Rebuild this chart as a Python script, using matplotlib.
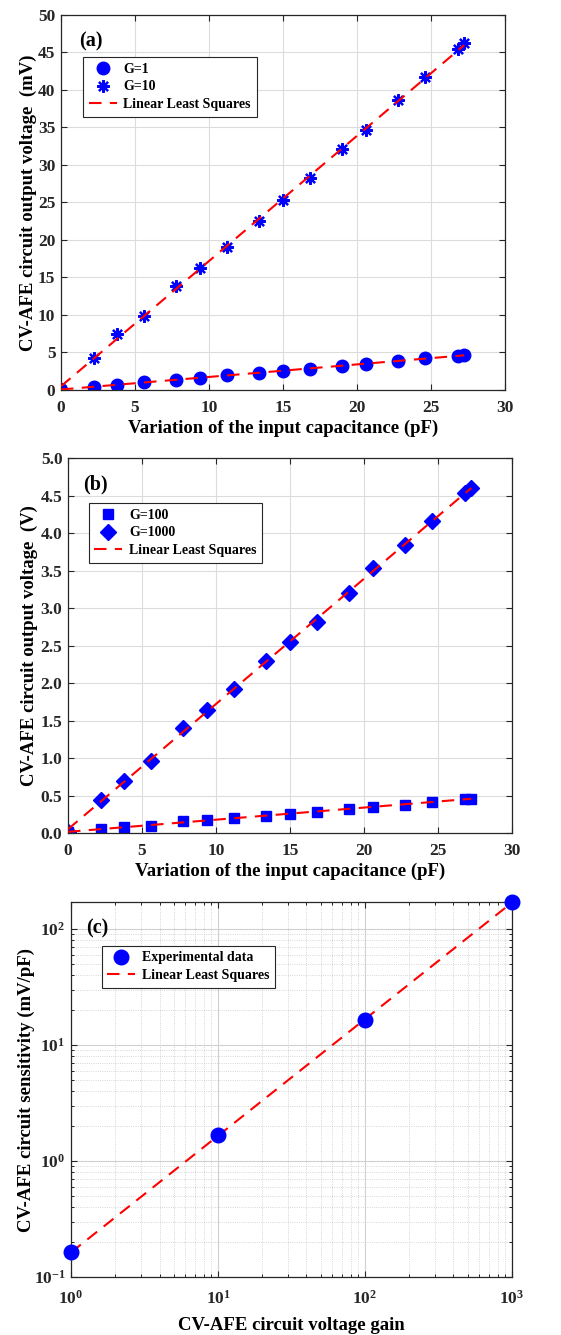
import numpy as np
import matplotlib
matplotlib.use("Agg")
import matplotlib.pyplot as plt
from matplotlib.ticker import FormatStrFormatter, LogLocator, NullFormatter

plt.rcParams['font.family'] = ['Liberation Serif', 'DejaVu Serif']
plt.rcParams['font.weight'] = 'bold'
plt.rcParams['mathtext.fontset'] = 'custom'
plt.rcParams['mathtext.rm'] = 'Liberation Serif:bold'
plt.rcParams['mathtext.bf'] = 'Liberation Serif:bold'
plt.rcParams['mathtext.default'] = 'bf'

# input capacitance variation (pF), shared by panels (a) and (b)
cap = [0, 2.26, 3.79, 5.59, 7.78, 9.38, 11.23, 13.38, 15.0, 16.8, 18.99, 20.62, 22.78, 24.61, 26.84, 27.25]

# panel (a), output in mV
g1 = [0.05, 0.45, 0.72, 1.0, 1.35, 1.65, 1.95, 2.28, 2.55, 2.82, 3.2, 3.5, 3.9, 4.2, 4.55, 4.65]
g10 = [0.1, 4.3, 7.4, 9.9, 13.8, 16.3, 19.1, 22.5, 25.3, 28.2, 32.1, 34.6, 38.7, 41.7, 45.4, 46.2]

# panel (b), output in V
g100 = [0.01, 0.05, 0.08, 0.10, 0.16, 0.18, 0.20, 0.23, 0.25, 0.28, 0.32, 0.35, 0.38, 0.42, 0.45, 0.46]
g1000 = [0.02, 0.44, 0.69, 0.96, 1.40, 1.64, 1.92, 2.29, 2.55, 2.82, 3.20, 3.53, 3.84, 4.16, 4.54, 4.60]

# panel (c), sensitivity (mV/pF) vs gain
gain = [1, 10, 100, 1000]
sens = [0.163, 1.67, 16.4, 171]

RED = '#ff0000'
BLUE = '#0000ff'
SPINE = '#262626'
TICKFS = 12.5
LABFS = 13.5
LEGFS = 10


def style(ax, xpad=7, ypad=4):
    ax.tick_params(direction='in', top=True, right=True, labelsize=TICKFS, width=0.8, length=4,
                   color=SPINE, labelcolor='#262626')
    ax.tick_params(axis='x', pad=xpad)
    ax.tick_params(axis='y', pad=ypad)
    ax.tick_params(which='minor', direction='in', top=True, right=True, width=0.6, length=2)
    for s in ax.spines.values():
        s.set_color(SPINE)
        s.set_linewidth(0.9)
    for lab in ax.get_xticklabels() + ax.get_yticklabels():
        lab.set_fontweight('bold')


def fit_line(ax, x, y):
    p = np.polyfit(x, y, 1)
    xs = np.array([0, max(x)])
    ax.plot(xs, np.polyval(p, xs), '--', color=RED, lw=1.5, dashes=(6, 4), zorder=3)


def legend(ax, anchor, handles=None, labels=None):
    kw = dict(loc='upper left', bbox_to_anchor=anchor, fontsize=LEGFS, fancybox=False,
              edgecolor=SPINE, framealpha=1, borderpad=0.4, handlelength=2.0,
              handletextpad=0.5, labelspacing=0.35, borderaxespad=0)
    if handles is None:
        leg = ax.legend(**kw)
    else:
        leg = ax.legend(handles, labels, **kw)
    leg.get_frame().set_linewidth(0.8)


fig = plt.figure(figsize=(5.61, 13.35), dpi=100)

# ---- (a)
ax1 = fig.add_axes([0.1087, 0.7079, 0.7914, 0.2809])
ax1.grid(True, color='#dcdcdc', lw=0.8)
ax1.set_axisbelow(True)
ax1.plot(cap, g1, 'o', color=BLUE, ms=9, label='G=1', zorder=2)
ax1.plot(cap, g10, marker=(8, 2, 0), ls='none', color=BLUE, mec=BLUE, mew=1.6, ms=9, label='G=10', zorder=2)
fit_line(ax1, cap, g1)
fit_line(ax1, cap, g10)
ax1.plot([], [], '--', color=RED, lw=1.5, dashes=(6, 4), label='Linear Least Squares')
ax1.set_xlim(0, 30)
ax1.set_ylim(0, 50)
ax1.set_xticks(range(0, 31, 5))
ax1.set_yticks(range(0, 51, 5))
ax1.set_xlabel('Variation of the input capacitance (pF)', fontsize=LABFS, fontweight='bold', labelpad=3)
ax1.set_ylabel('CV-AFE circuit output voltage  (mV)', fontsize=LABFS, fontweight='bold', labelpad=1)
ax1.text(0.04, 0.955, '(a)', transform=ax1.transAxes, fontsize=14.5, fontweight='bold', va='top')
h, l = ax1.get_legend_handles_labels()
legend(ax1, (0.05, 0.888), h[:2] + h[-1:], l[:2] + l[-1:])
style(ax1)

# ---- (b)
ax2 = fig.add_axes([0.1212, 0.3760, 0.7914, 0.2809])
ax2.grid(True, color='#dcdcdc', lw=0.8)
ax2.set_axisbelow(True)
ax2.plot(cap, g100, 's', color=BLUE, ms=7, label='G=100', zorder=2)
ax2.plot(cap, g1000, 'D', color=BLUE, ms=8, label='G=1000', zorder=2)
fit_line(ax2, cap, g100)
fit_line(ax2, cap, g1000)
ax2.plot([], [], '--', color=RED, lw=1.5, dashes=(6, 4), label='Linear Least Squares')
ax2.set_xlim(0, 30)
ax2.set_ylim(0, 5)
ax2.set_xticks(range(0, 31, 5))
ax2.set_yticks(np.arange(0, 5.01, 0.5))
ax2.yaxis.set_major_formatter(FormatStrFormatter('%.1f'))
ax2.set_xlabel('Variation of the input capacitance (pF)', fontsize=LABFS, fontweight='bold', labelpad=3)
ax2.set_ylabel('CV-AFE circuit output voltage  (V)', fontsize=LABFS, fontweight='bold', labelpad=2)
ax2.text(0.035, 0.955, '(b)', transform=ax2.transAxes, fontsize=14.5, fontweight='bold', va='top')
h, l = ax2.get_legend_handles_labels()
legend(ax2, (0.047, 0.88), h[:2] + h[-1:], l[:2] + l[-1:])
style(ax2)

# ---- (c)
ax3 = fig.add_axes([0.1266, 0.0434, 0.786, 0.2809])
ax3.set_xscale('log')
ax3.set_yscale('log')
ax3.grid(True, which='major', color='#d0d0d0', lw=0.8)
ax3.grid(True, which='minor', color='#c8c8c8', lw=0.6, ls=':')
ax3.set_axisbelow(True)
ax3.plot(gain, sens, 'o', color=BLUE, ms=10.5, label='Experimental data', zorder=4, clip_on=False)
p = np.polyfit(np.log10(gain), np.log10(sens), 1)
xs = np.array([1, 1000])
ax3.plot(xs, 10 ** np.polyval(p, np.log10(xs)), '--', color=RED, lw=1.5, dashes=(6, 4),
         label='Linear Least Squares', zorder=3)
ax3.set_xlim(1, 1000)
ax3.set_ylim(0.1, 171)
ax3.xaxis.set_major_locator(LogLocator(base=10, numticks=10))
ax3.xaxis.set_minor_locator(LogLocator(base=10, subs=np.arange(2, 10), numticks=10))
ax3.yaxis.set_minor_locator(LogLocator(base=10, subs=np.arange(2, 10), numticks=10))
ax3.xaxis.set_minor_formatter(NullFormatter())
ax3.yaxis.set_minor_formatter(NullFormatter())
ax3.set_xlabel('CV-AFE circuit voltage gain', fontsize=LABFS, fontweight='bold', labelpad=7)
ax3.set_ylabel('CV-AFE circuit sensitivity (mV/pF)', fontsize=LABFS, fontweight='bold', labelpad=-1)
ax3.text(0.035, 0.955, '(c)', transform=ax3.transAxes, fontsize=14.5, fontweight='bold', va='top')
legend(ax3, (0.07, 0.883))
style(ax3, xpad=9, ypad=4)

fig.savefig('out.png', dpi=100)
